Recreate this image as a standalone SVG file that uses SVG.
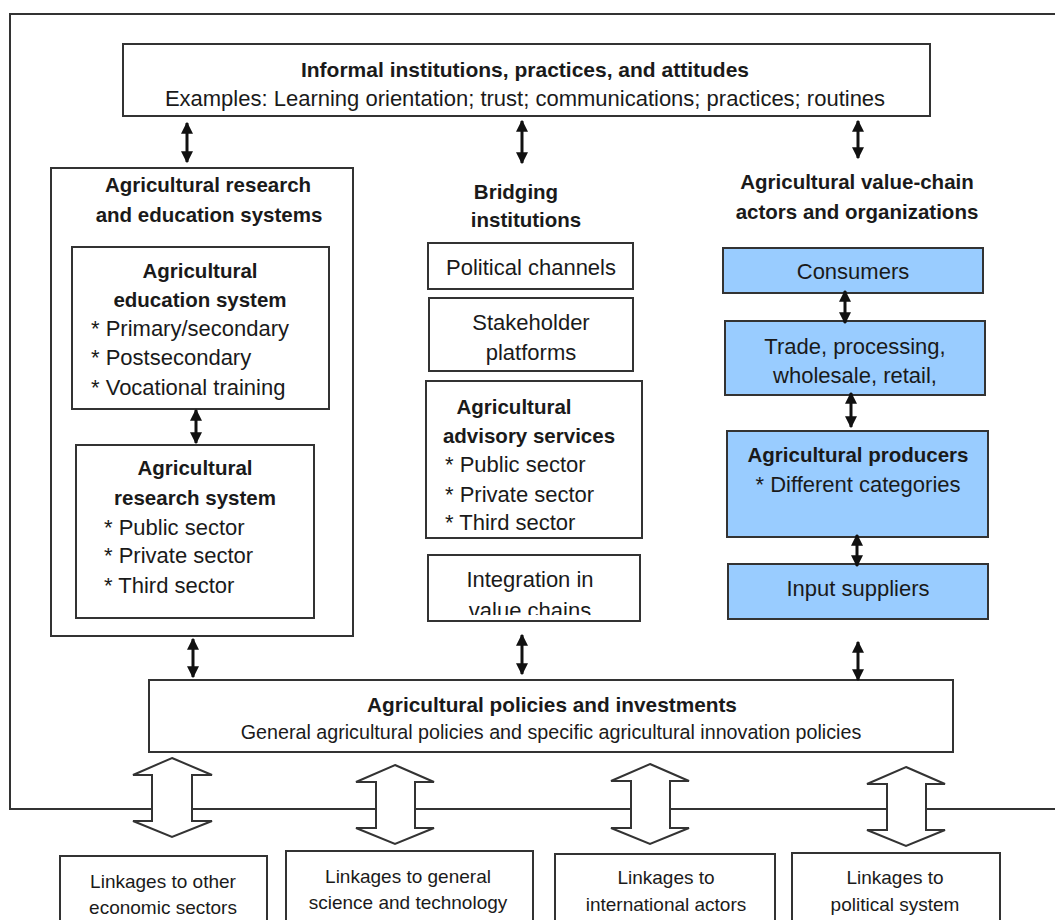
<svg xmlns="http://www.w3.org/2000/svg" width="1055" height="920" viewBox="0 0 1055 920">
<style>
.box{fill:#fff;stroke:#333;stroke-width:2}
.blue{fill:#99ccff;stroke:#333;stroke-width:2}
text{font-family:"Liberation Sans",Arial,sans-serif;fill:#1a1a1a}
.t{font-size:20.5px;font-weight:bold;text-anchor:middle}
.r{font-size:22px;text-anchor:middle}
.l{font-size:22px}
.k{font-size:19px;text-anchor:middle}
.c{stroke:#111;stroke-width:3;fill:none;marker-start:url(#ah);marker-end:url(#ah)}
.h{fill:#fff;stroke:#333;stroke-width:2;stroke-linejoin:miter}
</style>
<defs>
<marker id="ah" viewBox="0 0 10 10" refX="9" refY="5" markerWidth="4" markerHeight="4" orient="auto-start-reverse" markerUnits="strokeWidth">
<path d="M0,0 L10,5 L0,10 z" fill="#111"/>
</marker>
<clipPath id="clipInt"><rect x="428" y="556" width="212" height="59"/></clipPath>
</defs>
<rect width="1055" height="920" fill="#fff"/>
<g id="frame"><path d="M1060,14 H10 V809 H1060" fill="none" stroke="#333" stroke-width="2"/></g>

<g id="informal">
<rect class="box" x="123" y="44" width="807" height="72"/>
<text class="t" x="525" y="77" style="font-size:21px">Informal institutions, practices, and attitudes</text>
<text class="r" x="525" y="106">Examples: Learning orientation; trust; communications; practices; routines</text>
</g>

<g id="research-education">
<rect class="box" x="51" y="168" width="302" height="468"/>
<text class="t" x="208" y="192">Agricultural research</text>
<text class="t" x="209" y="222">and education systems</text>
</g>
<g id="education">
<rect class="box" x="72" y="247" width="257" height="162"/>
<text class="t" x="200" y="278">Agricultural</text>
<text class="t" x="200" y="307">education system</text>
<text class="l" x="91" y="336">* Primary/secondary</text>
<text class="l" x="91" y="365">* Postsecondary</text>
<text class="l" x="91" y="395">* Vocational training</text>
</g>
<g id="research">
<rect class="box" x="76" y="445" width="238" height="173"/>
<text class="t" x="195" y="475">Agricultural</text>
<text class="t" x="195" y="505">research system</text>
<text class="l" x="104" y="535">* Public sector</text>
<text class="l" x="104" y="563">* Private sector</text>
<text class="l" x="104" y="593">* Third sector</text>
</g>

<g id="bridging">
<text class="t" x="516" y="199">Bridging</text>
<text class="t" x="526" y="227">institutions</text>
</g>
<g id="political">
<rect class="box" x="428" y="243" width="205" height="46"/>
<text class="r" x="531" y="275">Political channels</text>
</g>
<g id="stakeholder">
<rect class="box" x="429" y="298" width="204" height="73"/>
<text class="r" x="531" y="330">Stakeholder</text>
<text class="r" x="531" y="360">platforms</text>
</g>
<g id="advisory">
<rect class="box" x="426" y="381" width="216" height="157"/>
<text class="t" x="514" y="414">Agricultural</text>
<text class="t" x="529" y="443">advisory services</text>
<text class="l" x="445" y="472">* Public sector</text>
<text class="l" x="445" y="502">* Private sector</text>
<text class="l" x="445" y="530">* Third sector</text>
</g>
<g id="integration">
<rect class="box" x="428" y="555" width="212" height="66"/>
<text class="r" x="530" y="587">Integration in</text>
<text class="r" x="530" y="618" clip-path="url(#clipInt)">value chains</text>
</g>

<g id="valuechain">
<text class="t" x="857" y="189">Agricultural value-chain</text>
<text class="t" x="857" y="219">actors and organizations</text>
</g>
<g id="consumers">
<rect class="blue" x="723" y="248" width="260" height="45"/>
<text class="r" x="853" y="279">Consumers</text>
</g>
<g id="trade">
<rect class="blue" x="725" y="321" width="260" height="74"/>
<text class="r" x="855" y="354">Trade, processing,</text>
<text class="r" x="855" y="383">wholesale, retail,</text>
</g>
<g id="producers">
<rect class="blue" x="727" y="431" width="261" height="106"/>
<text class="t" x="858" y="462">Agricultural producers</text>
<text class="r" x="858" y="492">* Different categories</text>
</g>
<g id="inputs">
<rect class="blue" x="728" y="564" width="260" height="55"/>
<text class="r" x="858" y="596">Input suppliers</text>
</g>

<g id="policies">
<rect class="box" x="149" y="680" width="804" height="72"/>
<text class="t" x="552" y="712" style="font-size:20.8px">Agricultural policies and investments</text>
<text class="r" x="551" y="739" style="font-size:19.7px">General agricultural policies and specific agricultural innovation policies</text>
</g>

<g id="link-economic">
<rect class="box" x="60" y="856" width="207" height="80"/>
<text class="k" x="163" y="888">Linkages to other</text>
<text class="k" x="163" y="914">economic sectors</text>
</g>
<g id="link-science">
<rect class="box" x="286" y="851" width="247" height="85"/>
<text class="k" x="408" y="883">Linkages to general</text>
<text class="k" x="408" y="909">science and technology</text>
</g>
<g id="link-international">
<rect class="box" x="555" y="854" width="220" height="82"/>
<text class="k" x="666" y="884">Linkages to</text>
<text class="k" x="666" y="911">international actors</text>
</g>
<g id="link-political">
<rect class="box" x="792" y="853" width="208" height="83"/>
<text class="k" x="895" y="884">Linkages to</text>
<text class="k" x="895" y="911">political system</text>
</g>

<g id="connectors">
<line class="c" x1="187" y1="123" x2="187" y2="162"/>
<line class="c" x1="522" y1="121" x2="522" y2="163"/>
<line class="c" x1="858" y1="121" x2="858" y2="158"/>
<line class="c" x1="196" y1="410" x2="196" y2="443"/>
<line class="c" x1="845" y1="291" x2="845" y2="323"/>
<line class="c" x1="851" y1="393" x2="851" y2="427"/>
<line class="c" x1="857" y1="535" x2="857" y2="566"/>
<line class="c" x1="193" y1="639" x2="193" y2="677"/>
<line class="c" x1="522" y1="635" x2="522" y2="674"/>
<line class="c" x1="858" y1="642" x2="858" y2="680"/>
<path class="h" d="M172,758 L212,775 L192,775 L192,821 L212,821 L172,837 L133,821 L152,821 L152,775 L133,775 Z"/>
<path class="h" d="M395,765 L434,782 L415,782 L415,828 L434,828 L395,844 L356,828 L376,828 L376,782 L356,782 Z"/>
<path class="h" d="M650,764 L689,781 L670,781 L670,828 L689,828 L650,844 L611,828 L631,828 L631,781 L611,781 Z"/>
<path class="h" d="M906,767 L945,784 L926,784 L926,830 L945,830 L906,846 L867,830 L887,830 L887,784 L867,784 Z"/>
</g>
</svg>
